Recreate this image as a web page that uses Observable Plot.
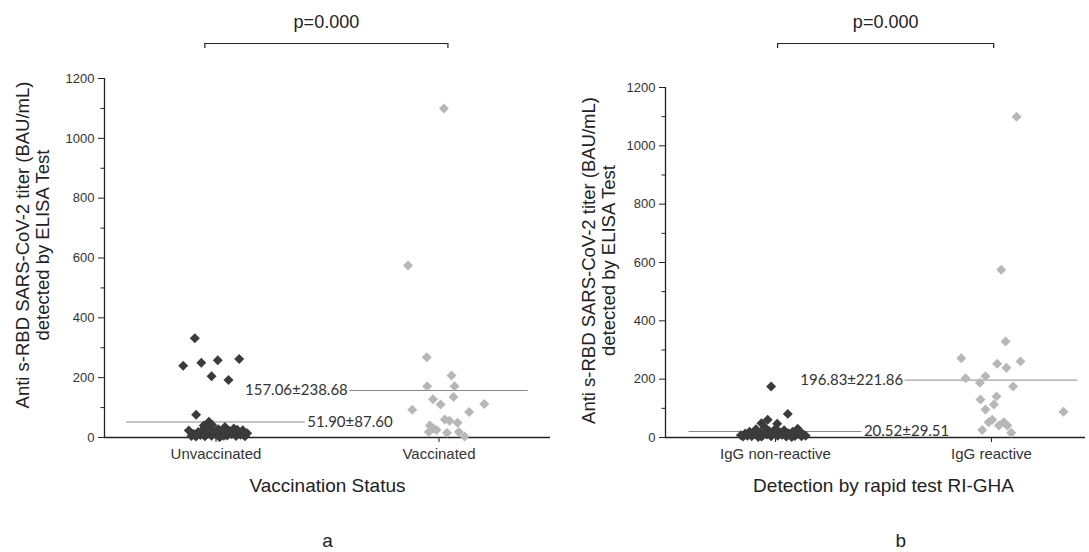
<!DOCTYPE html>
<html><head><meta charset="utf-8">
<script src="https://cdn.jsdelivr.net/npm/d3@7"></script>
<script src="https://cdn.jsdelivr.net/npm/@observablehq/plot@0.6"></script>
<style>
body{margin:0;background:#fff;}
#wrap{position:relative;width:1089px;height:552px;overflow:hidden;background:#fff;}
#wrap svg{position:absolute;top:0;background:transparent;}
</style></head><body><div id="wrap"></div>
<script>
// ---------- DATA ----------
const catsA = ["Unvaccinated", "Vaccinated"];
const unvaccValues = [332, 240, 250, 258, 262, 205, 192, 76, 53, 40, 42, 23,
  5, 12, 3, 18, 8, 25, 4, 14, 30, 6, 20, 10, 28, 3, 16, 35, 7, 22, 12, 30, 5, 18, 9, 24, 4, 14, 9, 2, 15, 26, 10, 6, 8];
const unvaccJitter = [-0.095, -0.147, -0.066, 0.008, 0.104, -0.020, 0.056, -0.089, -0.032, -0.055, -0.017, -0.122,
  -0.11, -0.10, -0.09, -0.08, -0.07, -0.06, -0.05, -0.04, -0.03, -0.02, -0.01, 0.00, 0.01, 0.02, 0.03, 0.04, 0.05, 0.06, 0.07, 0.08, 0.09, 0.10, 0.11, 0.12, 0.13, 0.14, -0.045, 0.015, 0.055, 0.095, -0.085, 0.035, 0.125];
const vaccValues = [1100, 575, 268, 207, 171, 171, 128, 135, 110, 112, 93, 85, 60, 56, 49, 40, 30, 18, 16, 18, 3, 25];
const vaccJitter = [0.022, -0.139, -0.055, 0.056, -0.053, 0.070, -0.027, 0.065, 0.007, 0.203, -0.120, 0.135, 0.026, 0.047, 0.083, -0.041, -0.025, -0.046, 0.036, 0.089, 0.115, -0.011];
const meansA = [51.90, 157.06];
const sdsA = [87.60, 238.68];

const catsB = ["IgG non-reactive", "IgG reactive"];
const nonReactiveValues = [175, 81, 61, 49, 47, 30,
  8, 3, 14, 6, 20, 4, 11, 28, 2, 16, 7, 35, 10, 22, 4, 13, 30, 6, 18, 9, 25, 3, 15, 8, 20, 5, 12, 22, 4, 10, 6, 12, 3, 11, 2, 14];
const nonReactiveJitter = [-0.020, 0.057, -0.036, -0.065, 0.008, 0.103,
  -0.16, -0.15, -0.14, -0.13, -0.12, -0.11, -0.10, -0.09, -0.08, -0.07, -0.06, -0.05, -0.04, -0.03, -0.02, -0.01, 0.00, 0.01, 0.02, 0.03, 0.04, 0.05, 0.06, 0.07, 0.08, 0.09, 0.10, 0.11, 0.12, 0.13, 0.14, -0.125, -0.065, 0.015, 0.075, 0.035];
const reactiveValues = [1100, 575, 329, 272, 253, 261, 239, 203, 210, 188, 175, 130, 141, 113, 96, 61, 52, 52, 41, 41, 26, 16, 88];
const reactiveJitter = [0.116, 0.045, 0.065, -0.140, 0.026, 0.134, 0.069, -0.120, -0.028, -0.054, 0.100, -0.051, 0.023, 0.011, -0.028, 0.003, -0.013, 0.057, 0.034, 0.073, -0.043, 0.091, 0.333];
const meansB = [20.52, 196.83];
const sdsB = [29.51, 221.86];

const yTicks = [0, 200, 400, 600, 800, 1000, 1200];
const yMinorTicks = [100, 300, 500, 700, 900, 1100];
const pLabels = ["p=0.000", "p=0.000"];
const xTitles = ["Vaccination Status", "Detection by rapid test RI-GHA"];
const panelLetters = ["a", "b"];
const yTitle = "Anti s-RBD SARS-CoV-2 titer (BAU/mL)\ndetected by ELISA Test";

// ---------- STYLE / LAYOUT ----------
const FONT = "'Liberation Sans', Arial, sans-serif";
const darkFill = "#3b3b3b", lightFill = "#b7b7b7", meanStroke = "#8a8a8a", ink = "#222";

function makePanel(cfg) {
  const {cats, groups, means, sds, pLabel, xTitle, letter, letterX, W, H, mL, mR, mT, mB, xDomain, yTitleDx, yTitleDy, bracketX} = cfg;
  const yMax = 1200;
  const toVal = px => yMax * (H - mB - px) / (H - mT - mB);
  const pts = [];
  groups.forEach((g, i) => g.values.forEach((v, j) => pts.push({x: i + 1 + g.jitter[j], y: v, grp: i})));
  const rows = means.map((m, i) => ({c: i + 1, m, label: m.toFixed(2) + "±" + sds[i].toFixed(2)}));
  const half = 0.4;
  const bracketY = toVal(43), bracketEnd = toVal(48);
  return Plot.plot({
    width: W, height: H, marginLeft: mL, marginRight: mR, marginTop: mT, marginBottom: mB,
    style: {fontFamily: FONT, color: "#333", background: "transparent", overflow: "visible"},
    x: {domain: xDomain, axis: null},
    y: {domain: [0, yMax], axis: null},
    marks: [
      Plot.axisY({ticks: yMinorTicks, tickSize: 3.5, tickFormat: () => "", label: null, stroke: ink}),
      Plot.axisY({ticks: yTicks, tickSize: 6, tickPadding: 4, fontSize: 13, tickFormat: d => String(d), label: null, stroke: ink}),
      Plot.axisX({ticks: [1, 2], tickFormat: d => cats[d - 1], tickSize: 5, tickPadding: 6, fontSize: 15, label: null, stroke: ink}),
      Plot.ruleX([xDomain[0]], {y1: 0, y2: yMax, stroke: ink, strokeWidth: 1.3}),
      Plot.ruleY([0], {stroke: ink, strokeWidth: 1.3}),
      Plot.ruleY(rows, {y: "m", x1: d => d.c - half, x2: d => d.c + half, stroke: meanStroke, strokeWidth: 1}),
      Plot.text(rows.filter(d => d.c === 1), {x: d => d.c + half, y: "m", text: "label", textAnchor: "start", dx: 2, fontSize: 15, fontFamily: "Lato, 'Open Sans', sans-serif", fill: "#333"}),
      Plot.text(rows.filter(d => d.c === 2), {x: d => d.c - half, y: "m", text: "label", textAnchor: "end", dx: -2, fontSize: 15, fontFamily: "Lato, 'Open Sans', sans-serif", fill: "#333"}),
      Plot.dot(pts.filter(d => d.grp === 0), {x: "x", y: "y", symbol: "diamond2", r: 4.5, fill: darkFill, stroke: "none"}),
      Plot.dot(pts.filter(d => d.grp === 1), {x: "x", y: "y", symbol: "diamond2", r: 4.5, fill: lightFill, stroke: "none"}),
      Plot.ruleY([bracketY], {x1: bracketX[0], x2: bracketX[1], stroke: ink, strokeWidth: 1.2}),
      Plot.ruleX(bracketX, {y1: bracketY, y2: bracketEnd, stroke: ink, strokeWidth: 1.2}),
      Plot.text([pLabel], {x: (bracketX[0] + bracketX[1]) / 2, y: toVal(22), text: d => d, fontSize: 18, fill: ink}),
      Plot.text([yTitle], {frameAnchor: "left", text: d => d, rotate: -90, dx: yTitleDx, dy: yTitleDy, fontSize: 18.5, lineHeight: 1.08, lineAnchor: "middle", textAnchor: "middle", fill: ink}),
      Plot.text([xTitle], {x: 1.5, y: toVal(485), text: d => d, fontSize: 19, fill: ink}),
      Plot.text([letter], {x: letterX, y: toVal(540), text: d => d, fontSize: 19, fill: ink})
    ]
  });
}

const wrap = document.getElementById("wrap");
const a = makePanel({
  cats: catsA,
  groups: [{values: unvaccValues, jitter: unvaccJitter}, {values: vaccValues, jitter: vaccJitter}],
  means: meansA, sds: sdsA, pLabel: pLabels[0], xTitle: xTitles[0], letter: panelLetters[0], letterX: 1.5,
  W: 560, H: 552, mL: 104, mR: 10, mT: 78, mB: 115, xDomain: [0.5, 2.5], yTitleDx: -72, yTitleDy: -13,
  bracketX: [0.95, 2.04]
});
a.style.left = "0px";
wrap.appendChild(a);
const b = makePanel({
  cats: catsB,
  groups: [{values: nonReactiveValues, jitter: nonReactiveJitter}, {values: reactiveValues, jitter: reactiveJitter}],
  means: meansB, sds: sdsB, pLabel: pLabels[1], xTitle: xTitles[1], letter: panelLetters[1], letterX: 1.58,
  W: 529, H: 552, mL: 105, mR: 4, mT: 87, mB: 115, xDomain: [0.491, 2.435], yTitleDx: -67, yTitleDy: -2,
  bracketX: [1.01, 2.01]
});
b.style.left = "560px";
wrap.appendChild(b);
</script></body></html>
